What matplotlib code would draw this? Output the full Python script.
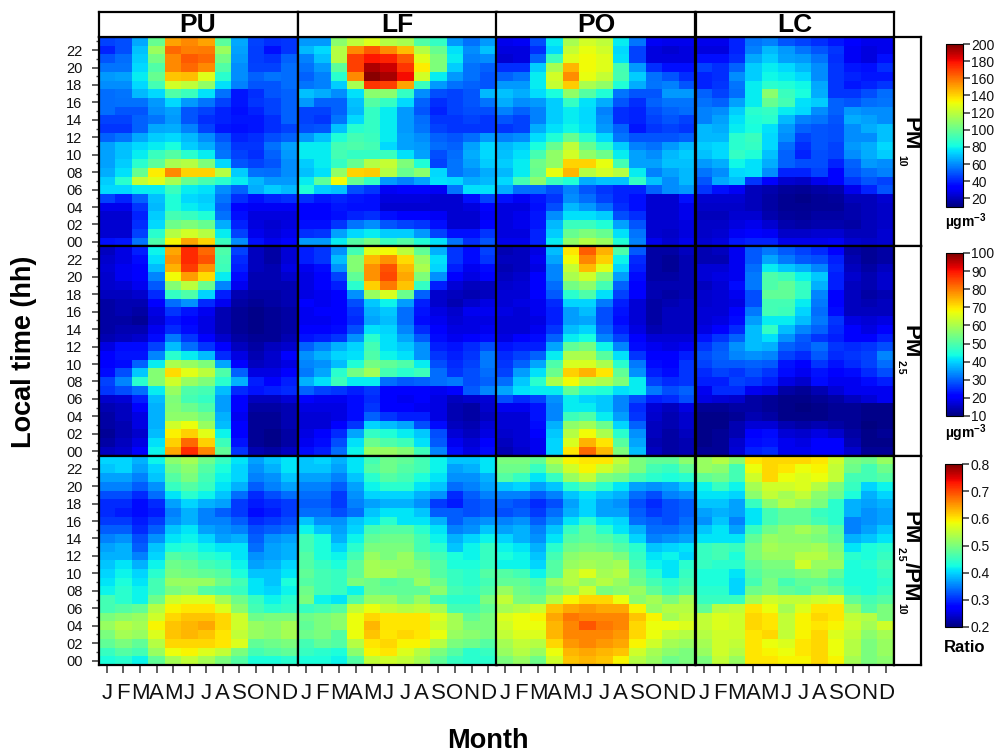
import matplotlib
matplotlib.use('Agg')
import matplotlib.pyplot as plt
import numpy as np

plt.rcParams['font.family'] = ['Liberation Sans', 'DejaVu Sans']
plt.rcParams['mathtext.fontset'] = 'custom'
plt.rcParams['mathtext.rm'] = 'Liberation Sans:bold'
plt.rcParams['mathtext.default'] = 'rm'

sites = ['PU', 'LF', 'PO', 'LC']
months = ['J', 'F', 'M', 'A', 'M', 'J', 'J', 'A', 'S', 'O', 'N', 'D']
hour_labels = ['%02d' % h for h in range(0, 24, 2)]

# every table: first row is hour 23, last row is hour 00, columns Jan..Dec
pm10_pu = [
[46,48,65,100,150,155,150,97,65,46,42,44],
[40,48,70,112,162,157,158,112,64,45,36,44],
[50,54,72,103,155,165,162,103,62,45,43,52],
[56,56,74,95,155,162,155,95,60,46,46,54],
[62,64,78,100,143,145,128,86,60,52,56,54],
[60,60,74,92,125,120,110,76,58,50,50,54],
[54,56,68,74,95,90,76,55,38,42,50,52],
[54,55,55,62,74,62,56,46,38,44,46,52],
[54,50,50,60,64,50,46,40,36,40,46,52],
[46,46,52,56,62,50,42,40,38,38,42,52],
[44,44,52,65,66,58,46,38,36,38,42,46],
[52,56,65,72,74,68,60,50,40,42,48,52],
[64,70,74,78,82,72,66,54,44,44,55,64],
[64,70,78,90,96,86,78,56,46,42,52,62],
[64,72,86,98,115,118,105,74,50,46,50,60],
[66,76,100,135,155,140,140,118,72,55,54,60],
[72,86,122,128,115,100,93,86,78,68,62,62],
[74,74,78,78,90,78,76,60,52,66,72,68],
[46,40,52,70,84,74,72,56,42,36,40,42],
[28,28,44,68,84,78,74,52,34,30,30,30],
[24,24,40,72,92,89,84,55,36,26,26,26],
[24,24,42,74,102,105,100,66,40,26,24,26],
[24,24,46,86,118,125,118,78,46,28,25,28],
[36,38,56,94,133,150,140,90,60,36,28,34]]
pm10_lf = [
[62,62,108,120,128,118,115,95,88,62,55,62],
[68,74,118,155,165,155,145,118,100,76,60,70],
[58,70,118,170,178,176,165,128,105,78,58,60],
[55,62,98,170,192,187,172,135,105,72,55,52],
[52,58,86,155,198,193,180,125,78,62,55,50],
[56,58,72,115,172,170,150,90,62,55,52,50],
[70,66,60,76,108,108,88,60,48,46,50,68],
[62,52,52,70,96,88,74,52,42,46,50,56],
[46,46,52,68,88,78,62,50,40,46,48,48],
[46,44,56,74,88,78,62,54,44,44,46,44],
[48,50,70,85,88,78,62,56,46,44,44,44],
[62,70,84,92,90,78,64,60,52,50,54,62],
[78,78,92,94,92,74,64,62,54,52,64,74],
[78,78,92,88,88,90,76,64,48,54,66,74],
[72,78,88,100,118,122,105,84,46,56,64,72],
[70,76,110,140,142,118,100,108,74,56,60,66],
[78,98,132,100,88,62,58,64,76,74,66,68],
[84,72,70,48,44,30,32,32,30,56,76,76],
[42,38,40,38,36,26,26,26,24,24,36,46],
[34,34,38,36,36,24,24,24,24,24,26,34],
[34,34,36,40,42,36,34,34,30,24,24,30],
[36,36,44,56,60,50,46,44,36,24,24,34],
[42,44,64,74,78,72,72,62,46,36,36,44],
[62,62,78,96,104,90,96,84,76,56,42,50]]
pm10_po = [
[28,30,48,78,115,125,120,78,56,30,28,28],
[26,26,42,74,122,130,124,74,46,26,24,26],
[24,26,52,90,128,132,128,76,46,26,26,26],
[42,42,72,115,146,132,128,92,62,42,36,36],
[52,56,78,125,154,130,122,93,72,55,50,42],
[62,62,78,122,142,116,110,84,66,56,58,50],
[70,66,75,82,110,96,84,56,50,50,62,62],
[66,60,62,72,88,76,66,50,42,52,56,56],
[58,52,58,72,78,74,58,42,40,48,52,54],
[50,46,58,72,78,74,60,42,40,46,50,46],
[44,46,66,76,80,76,62,52,38,44,46,44],
[58,60,75,84,100,86,74,56,50,50,50,52],
[68,72,82,100,120,100,86,72,58,55,62,68],
[70,76,93,110,125,110,102,78,64,60,68,72],
[72,78,102,110,140,140,130,92,64,64,70,70],
[68,78,100,130,146,118,125,118,78,58,64,68],
[74,92,108,90,84,66,70,70,88,70,60,68],
[66,54,54,48,58,50,44,40,40,52,60,62],
[36,30,38,44,60,54,46,40,36,24,24,36],
[26,26,36,48,68,62,54,42,36,24,24,28],
[26,28,38,60,76,76,72,48,42,24,24,28],
[26,28,38,68,90,90,84,64,50,24,24,26],
[26,26,40,72,100,105,100,76,56,24,22,26],
[28,28,40,78,110,118,112,84,58,28,24,28]]
pm10_lc = [
[28,28,40,56,58,50,46,42,38,32,28,28],
[26,26,40,58,68,62,56,50,44,30,26,28],
[36,36,42,65,72,64,62,56,42,30,26,36],
[46,42,52,72,78,74,68,60,44,38,36,42],
[40,42,60,72,80,78,74,60,44,40,38,38],
[40,44,56,78,86,84,80,65,44,38,40,44],
[52,46,54,78,108,90,82,66,44,44,48,54],
[55,52,64,78,100,92,76,72,52,50,54,56],
[58,60,72,86,88,78,74,60,52,62,60,60],
[58,64,76,84,86,68,58,56,50,66,64,60],
[68,66,78,82,76,62,52,50,48,60,66,70],
[68,68,86,90,74,60,46,50,48,60,60,70],
[72,74,86,88,74,54,42,50,46,62,66,74],
[70,74,88,84,70,52,40,48,46,60,66,72],
[62,66,80,76,66,52,48,48,40,52,62,60],
[56,60,74,76,60,40,40,46,34,50,54,58],
[50,65,70,44,32,24,22,28,34,44,50,46],
[44,36,30,20,18,15,14,16,18,28,40,50],
[24,24,24,20,16,13,12,14,15,20,20,24],
[22,22,22,20,16,13,13,14,14,18,20,22],
[20,20,24,24,18,15,14,16,16,18,20,22],
[22,22,26,28,24,18,16,18,18,16,20,22],
[22,24,30,34,30,22,22,24,24,20,20,24],
[24,26,38,40,40,28,28,28,30,24,22,24]]

pm25_pu = [
[15,18,24,43,76,88,82,50,27,15,13,17],
[16,18,22,41,78,88,84,49,25,15,13,17],
[17,19,21,38,75,86,78,48,24,15,14,18],
[16,19,20,33,68,77,71,42,22,14,14,16],
[16,17,19,29,56,62,53,33,19,14,14,14],
[15,15,16,25,47,50,40,24,14,13,13,14],
[13,14,14,20,31,34,25,19,13,12,13,14],
[13,14,13,18,26,23,19,14,12,11,12,13],
[13,13,12,17,23,21,18,14,12,11,12,13],
[13,14,14,19,25,22,18,14,12,11,12,13],
[14,15,16,22,32,26,21,16,13,12,12,14],
[18,22,22,27,38,31,26,21,15,13,15,16],
[20,23,23,33,46,42,38,25,18,14,16,20],
[20,22,30,42,60,58,55,36,21,15,16,18],
[22,28,39,56,71,66,62,50,30,18,18,21],
[27,33,46,56,64,58,55,46,37,24,21,24],
[26,28,31,42,58,50,49,38,25,23,24,25],
[16,17,24,38,55,49,47,35,20,15,15,17],
[14,15,20,37,56,53,50,35,20,13,13,14],
[13,15,18,37,57,57,54,37,19,12,12,14],
[13,14,18,37,64,67,58,38,20,12,12,14],
[12,14,16,38,69,72,66,43,20,12,11,13],
[13,15,18,41,72,82,72,48,23,12,11,13],
[15,16,21,43,76,88,79,52,26,14,13,15]]
pm25_lf = [
[24,26,34,49,66,68,62,52,37,26,22,27],
[24,26,38,56,74,78,71,58,41,26,22,26],
[19,22,34,56,78,84,74,60,40,24,19,22],
[18,20,27,52,78,85,76,55,34,20,18,20],
[18,20,24,46,72,80,73,47,24,17,15,15],
[18,19,20,34,58,65,53,30,16,15,14,15],
[20,19,20,28,39,43,35,24,16,14,16,18],
[19,20,20,26,37,39,31,23,18,16,19,19],
[19,19,20,25,36,38,31,22,19,17,18,18],
[20,21,22,28,41,40,33,25,20,18,18,19],
[23,24,26,34,46,41,36,29,22,19,20,22],
[30,33,37,40,49,41,39,34,24,23,25,28],
[34,37,40,41,50,43,41,34,26,24,26,32],
[33,34,38,45,54,52,50,42,28,25,27,32],
[32,36,46,54,59,49,46,48,31,26,28,31],
[37,41,48,42,42,31,29,30,31,32,28,30],
[30,27,26,24,26,20,20,20,19,20,29,33],
[20,19,19,22,25,20,19,20,18,15,16,17],
[18,18,18,22,26,20,20,19,18,14,13,16],
[17,17,18,22,30,26,24,24,18,14,13,15],
[17,17,20,26,40,38,36,28,22,15,14,17],
[18,20,25,36,47,45,42,39,28,17,15,18],
[19,22,28,41,53,50,48,41,29,19,17,20],
[22,24,31,43,58,58,56,48,33,22,18,22]]
pm25_po = [
[14,15,18,38,70,83,75,50,29,13,13,15],
[15,15,19,36,68,79,72,43,25,13,12,14],
[14,15,18,33,63,74,66,40,24,13,12,14],
[15,16,20,33,60,64,56,35,22,13,13,14],
[16,17,21,31,54,57,49,30,21,14,14,14],
[17,17,20,29,46,50,41,27,20,14,13,14],
[17,18,19,25,40,40,32,24,17,13,14,15],
[18,17,19,24,35,38,28,23,17,13,15,15],
[17,17,18,24,35,36,28,22,17,13,15,15],
[17,17,19,26,38,40,30,24,18,14,15,15],
[18,20,22,30,42,44,33,27,20,17,17,17],
[23,24,24,36,52,54,43,33,22,19,18,19],
[25,27,30,42,60,60,51,41,26,21,20,24],
[26,30,36,50,65,65,60,46,32,22,21,26],
[27,35,41,53,72,75,70,52,34,24,22,26],
[31,39,46,60,68,62,60,55,42,27,25,26],
[36,41,42,42,52,46,45,41,42,32,28,30],
[28,25,27,34,42,40,39,33,28,24,25,28],
[19,19,23,33,42,42,39,33,25,17,15,18],
[17,17,23,33,48,50,42,35,26,16,14,16],
[17,17,22,37,57,59,53,40,30,15,14,16],
[16,17,20,39,61,68,60,46,34,15,13,15],
[15,17,19,40,65,75,70,51,36,14,13,14],
[14,16,19,40,70,82,74,55,38,15,13,14]]
pm25_lc = [
[14,15,19,29,32,29,27,25,20,13,12,13],
[14,14,19,29,36,32,29,28,24,14,12,13],
[17,17,19,31,42,39,37,33,25,15,13,15],
[17,18,19,32,50,48,43,39,24,16,14,16],
[15,17,22,32,50,52,47,37,24,15,14,16],
[16,17,19,28,52,52,47,33,21,15,13,14],
[16,17,18,28,49,49,42,32,21,15,14,15],
[17,17,20,32,49,48,40,31,22,15,15,15],
[17,18,22,35,42,42,38,32,26,18,17,18],
[18,20,25,38,47,38,33,30,25,20,18,21],
[23,26,30,38,41,34,29,26,24,21,21,24],
[26,29,34,38,37,30,28,31,26,25,26,28],
[28,30,33,34,33,27,25,29,25,26,27,33],
[27,29,29,30,29,23,20,26,23,25,27,31],
[25,27,26,28,26,22,19,23,21,22,25,28],
[24,24,27,26,24,18,16,22,19,19,22,24],
[19,25,25,19,18,13,12,14,17,19,19,19],
[18,17,16,13,12,11,11,12,13,15,17,19],
[12,12,13,13,12,11,10,11,12,12,11,11],
[11,11,12,14,13,11,11,11,12,12,11,11],
[11,11,14,17,17,14,13,14,13,12,10,11],
[11,12,14,20,22,17,16,18,16,13,11,12],
[11,12,16,22,23,19,18,20,20,14,11,11],
[12,12,17,24,25,19,19,21,21,16,12,12]]

# ratio tables are written in hundredths
ratio_pu = [
[40,40,38,42,51,53,49,45,41,37,39,41],
[39,40,37,40,49,51,47,43,40,36,38,41],
[37,37,35,39,47,50,46,42,40,35,36,39],
[35,35,33,36,45,47,45,41,38,33,35,37],
[32,32,30,34,41,44,42,39,34,30,32,34],
[30,30,28,30,37,40,38,37,31,29,30,31],
[30,29,28,29,35,38,35,33,31,28,29,31],
[31,31,29,31,36,38,35,35,33,30,31,32],
[33,33,30,33,39,41,37,36,35,32,33,34],
[35,36,32,36,41,42,40,37,38,33,36,37],
[37,38,33,39,43,44,42,41,41,34,37,38],
[38,38,35,40,47,46,44,43,41,36,37,38],
[39,41,38,42,49,48,46,45,42,37,38,40],
[40,42,40,44,50,49,48,47,43,39,39,41],
[41,43,41,46,52,52,52,49,46,41,39,43],
[42,44,42,46,50,51,47,46,45,41,40,42],
[46,44,42,49,56,57,57,53,49,45,42,44],
[46,47,48,54,59,60,60,57,51,46,44,45],
[50,51,52,56,61,62,62,61,56,49,50,50],
[52,54,53,59,62,63,64,61,56,52,51,53],
[50,53,52,57,62,63,62,60,55,52,51,53],
[48,50,48,54,61,61,61,60,57,48,49,50],
[45,47,46,52,58,59,57,55,50,46,47,48],
[43,44,42,48,53,55,53,50,47,43,43,44]]
ratio_lf = [
[39,40,38,41,46,49,48,46,42,39,39,41],
[39,39,37,41,47,49,47,46,42,37,38,41],
[37,37,35,39,44,47,46,43,41,36,36,38],
[35,35,33,37,42,44,44,41,39,34,35,37],
[34,34,31,36,40,40,40,38,36,30,33,35],
[33,33,31,35,37,38,38,36,31,29,32,33],
[34,34,32,34,39,41,41,39,33,33,32,33],
[39,36,36,39,41,44,41,41,38,33,35,36],
[42,39,37,40,46,47,47,44,41,35,36,39],
[46,43,38,42,48,49,49,46,42,38,40,42],
[46,43,40,44,50,50,50,46,44,39,42,45],
[47,43,42,46,52,50,52,48,46,43,42,45],
[47,45,43,48,53,52,52,50,47,43,43,45],
[48,46,45,48,53,53,51,51,47,45,44,47],
[47,46,45,50,49,47,48,52,49,45,44,46],
[49,46,45,42,49,48,48,48,51,46,45,47],
[50,42,41,47,52,52,49,52,46,44,44,50],
[45,46,47,55,58,55,54,55,53,46,46,48],
[49,50,51,58,61,60,60,60,57,53,48,50],
[48,50,51,58,63,60,60,60,56,53,50,50],
[49,50,47,58,62,60,61,60,58,52,51,50],
[46,48,47,54,60,61,59,59,54,50,49,47],
[45,44,43,51,59,60,57,54,50,47,44,45],
[43,43,42,47,55,56,55,53,48,45,44,44]]
ratio_po = [
[50,50,48,54,59,60,60,55,50,48,48,51],
[49,49,45,51,56,59,56,53,50,46,45,48],
[47,45,41,45,52,55,50,49,46,44,43,44],
[39,40,37,39,44,47,44,41,37,36,37,39],
[35,35,33,35,39,41,39,38,34,32,35,36],
[33,32,30,32,37,40,37,36,32,30,32,33],
[32,33,31,34,38,40,37,37,33,31,32,33],
[35,36,33,36,41,44,41,40,34,33,32,34],
[37,38,35,39,45,48,44,41,38,34,34,35],
[40,38,36,41,47,48,47,45,40,35,36,37],
[42,41,38,44,49,50,49,47,44,39,40,41],
[43,42,39,46,51,52,52,50,45,41,42,40],
[42,42,40,47,52,53,52,53,46,42,41,44],
[47,46,42,47,54,57,53,54,48,44,41,45],
[48,48,46,52,54,52,54,52,49,46,44,46],
[52,49,47,50,52,56,50,51,52,48,45,47],
[55,50,49,54,59,61,61,58,51,53,50,53],
[53,54,56,62,64,65,64,64,59,52,54,54],
[57,58,59,64,67,66,66,66,62,59,53,55],
[56,58,58,63,66,69,67,66,61,58,58,57],
[55,57,57,63,66,66,66,65,61,58,55,54],
[53,55,54,61,65,66,65,64,59,56,53,52],
[52,54,52,58,63,64,63,62,56,53,51,50],
[50,52,49,56,62,63,62,59,54,52,49,50]]
ratio_lc = [
[52,54,51,60,61,61,61,60,56,50,49,52],
[52,51,46,58,61,60,58,59,55,49,46,49],
[48,49,46,56,61,58,57,58,55,46,46,47],
[42,45,42,53,56,56,57,54,50,45,40,42],
[41,41,40,51,55,53,55,51,49,43,38,40],
[39,39,37,45,51,54,52,50,44,38,37,38],
[37,38,37,41,46,48,48,45,44,38,36,37],
[36,39,35,41,46,48,48,46,44,35,36,37],
[39,41,37,45,49,51,53,51,47,35,37,39],
[41,41,41,48,52,51,51,50,48,38,39,41],
[45,46,45,50,53,52,52,53,50,41,43,44],
[45,46,43,50,52,52,54,54,51,44,43,45],
[45,44,44,48,50,50,56,52,52,43,44,46],
[43,43,41,47,49,49,50,51,48,43,43,45],
[43,43,40,46,50,46,48,48,46,43,43,44],
[44,44,40,49,50,48,47,50,48,44,43,45],
[45,45,45,53,56,55,55,56,57,48,46,47],
[48,54,55,60,58,53,57,60,60,52,47,50],
[55,57,56,61,60,55,59,61,60,55,54,50],
[55,57,56,61,60,55,59,60,59,56,53,56],
[54,56,56,60,61,55,59,61,57,55,51,53],
[53,56,55,60,58,57,60,61,58,54,50,52],
[52,56,54,60,59,58,60,61,58,54,50,52],
[50,55,52,60,60,59,59,61,59,53,50,51]]

pm10_all = [pm10_pu, pm10_lf, pm10_po, pm10_lc]
pm25_all = [pm25_pu, pm25_lf, pm25_po, pm25_lc]
ratio_all = [ratio_pu, ratio_lf, ratio_po, ratio_lc]

W, H = 995.0, 751.0
def px_axes(x0, y0, x1, y1):
    # pixel box measured from the top left of the picture
    return fig.add_axes([x0/W, 1-y1/H, (x1-x0)/W, (y1-y0)/H])
def px_text(x, y, s, **kw):
    return fig.text(x/W, 1-y/H, s, ha='center', va='center', **kw)

fig = plt.figure(figsize=(9.95, 7.51), dpi=100)

xs = [98.5, 297.5, 496.5, 695.5, 894.0]
ys = [37.0, 246.3, 455.6, 665.0]
rows = [
    (pm10_all, 1.0, 10, 200, list(range(20, 201, 20)), '%d'),
    (pm25_all, 1.0, 10, 100, list(range(10, 101, 10)), '%d'),
    (ratio_all, 0.01, 0.2, 0.8, [.2, .3, .4, .5, .6, .7, .8], '%.1f'),
]
lw = 1.6
tick_col = '#444444'
meshes = []
for r, (tables, scale, vmin, vmax, cticks, cfmt) in enumerate(rows):
    for c, table in enumerate(tables):
        ax = px_axes(xs[c], ys[r], xs[c+1], ys[r+1])
        data = np.array(table, dtype=float)[::-1]*scale
        m = ax.pcolormesh(np.arange(13), np.arange(25), data, cmap='jet', vmin=vmin, vmax=vmax,
                          antialiased=False, linewidth=0)
        ax.set_xlim(0, 12)
        ax.set_ylim(0, 24)
        for s in ax.spines.values():
            s.set_linewidth(lw)
        ax.set_xticks(np.arange(12)+.5)
        ax.set_yticks(np.arange(0, 24, 2)+.5)
        ax.set_yticks(np.arange(1, 24, 2)+.5, minor=True)
        ax.tick_params(axis='x', length=0, labelbottom=False)
        ax.tick_params(axis='y', which='both', length=0, labelleft=False)
        if r == 2:
            ax.tick_params(axis='x', length=6, width=1.2, color=tick_col, labelbottom=True,
                           labelsize=16, pad=7, labelcolor='#111111')
            ax.set_xticklabels(months)
        if c == 0:
            ax.tick_params(axis='y', which='major', length=5, width=1.2, color=tick_col, labelleft=True,
                           labelsize=10.5, pad=6.5, labelcolor='#111111')
            ax.tick_params(axis='y', which='minor', length=2.5, width=1.0, color=tick_col)
            ax.set_yticklabels(hour_labels)
    meshes.append(m)

# site strip along the top
for c, site in enumerate(sites):
    ax = px_axes(xs[c], 12, xs[c+1], ys[0])
    ax.set_xticks([])
    ax.set_yticks([])
    for s in ax.spines.values():
        s.set_linewidth(lw)
    ax.text(.5, .47, site, transform=ax.transAxes, ha='center', va='center', fontsize=19, fontweight='bold')

# variable strip on the right
for r in range(3):
    ax = px_axes(xs[4], ys[r], 921, ys[r+1])
    ax.set_xticks([])
    ax.set_yticks([])
    for s in ax.spines.values():
        s.set_linewidth(lw)
bold = dict(fontsize=16, fontweight='bold', rotation=270)
small = dict(fontsize=7.5, fontweight='bold', rotation=270)
px_text(910, 134, 'PM', **bold)
px_text(901, 161, '10', **small)
px_text(910, 342, 'PM', **bold)
px_text(901, 367, '2.5', **small)
px_text(910, 528, 'PM', **bold)
px_text(901, 554, '2.5', **small)
px_text(910, 582, '/PM', **bold)
px_text(901, 609, '10', **small)

# colour bars
bars = [(946, 44, 963, 207), (946, 253, 963, 416), (945, 464, 962, 627)]
units = [(966, 222, r'µgm$^{-3}$'), (966, 433, r'µgm$^{-3}$'), (965, 647, 'Ratio')]
for (x0, y0, x1, y1), m, row, (ux, uy, ut) in zip(bars, meshes, rows, units):
    cax = px_axes(x0, y0, x1, y1)
    cb = fig.colorbar(m, cax=cax)
    cb.set_ticks(row[4])
    cb.set_ticklabels([row[5] % t for t in row[4]])
    cb.ax.tick_params(length=5, width=1.2, color=tick_col, labelsize=10, pad=1, labelcolor='#111111')
    cb.outline.set_linewidth(.8)
    px_text(ux, uy, ut, fontsize=12 if ut == 'Ratio' else 10, fontweight='bold')

px_text(24.5, 352, 'Local time (hh)', fontsize=19.5, fontweight='bold', rotation=90)
px_text(488, 741, 'Month', fontsize=19.5, fontweight='bold')

fig.savefig('out.png', dpi=100)
